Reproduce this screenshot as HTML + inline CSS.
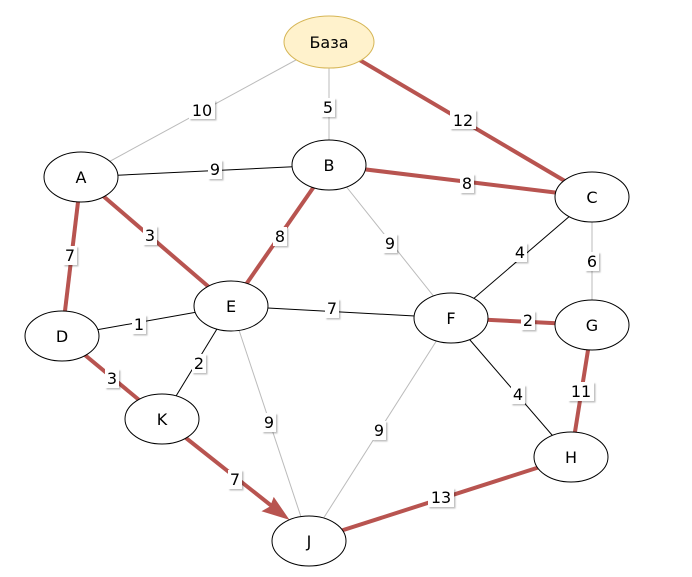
<!DOCTYPE html>
<html><head><meta charset="utf-8"><style>body{margin:0;background:#fff}svg{display:block}
text{font-family:"DejaVu Sans","Liberation Sans",sans-serif;font-size:16px;fill:#000}</style></head>
<body>
<svg width="692" height="577" viewBox="0 0 692 577" xmlns="http://www.w3.org/2000/svg">
<defs><filter id="s" x="-20%" y="-20%" width="150%" height="150%"><feDropShadow dx="1.5" dy="1.5" stdDeviation="0.8" flood-color="#000" flood-opacity="0.25"/></filter></defs>
<g stroke="#bbb" stroke-width="1" fill="none">
<line x1="329" y1="42" x2="81" y2="177"/><line x1="329" y1="42" x2="329" y2="165"/>
<line x1="329" y1="165" x2="451" y2="318"/><line x1="592" y1="197" x2="592" y2="325"/>
<line x1="231" y1="306" x2="309" y2="541"/><line x1="451" y1="318" x2="309" y2="541"/>
</g>
<g stroke="#000" stroke-width="1" fill="none">
<line x1="81" y1="177" x2="329" y2="165"/><line x1="62" y1="336" x2="231" y2="306"/>
<line x1="231" y1="306" x2="162" y2="419"/><line x1="231" y1="306" x2="451" y2="318"/>
<line x1="592" y1="197" x2="451" y2="318"/><line x1="451" y1="318" x2="571" y2="457"/>
</g>
<g stroke="#b85450" stroke-width="4" fill="none">
<line x1="329" y1="42" x2="592" y2="197"/><line x1="329" y1="165" x2="592" y2="197"/>
<line x1="81" y1="177" x2="62" y2="336"/><line x1="81" y1="177" x2="231" y2="306"/>
<line x1="329" y1="165" x2="231" y2="306"/><line x1="451" y1="318" x2="592" y2="325"/>
<line x1="592" y1="325" x2="571" y2="457"/><line x1="62" y1="336" x2="162" y2="419"/>
<line x1="309" y1="541" x2="571" y2="457"/><line x1="162" y1="419" x2="278" y2="511"/>
</g>
<polygon points="287,518 264,511 271,507 274,499" fill="#b85450" stroke="#b85450" stroke-width="2"/>
<g fill="#fff" stroke="#000" stroke-width="1">
<ellipse cx="329" cy="42" rx="45" ry="26" fill="#fff2cc" stroke="#d6b656"/>
<ellipse cx="81" cy="177" rx="37" ry="25"/><ellipse cx="329" cy="165" rx="37" ry="25"/>
<ellipse cx="592" cy="197" rx="37" ry="25"/><ellipse cx="62" cy="336" rx="37" ry="25"/>
<ellipse cx="231" cy="306" rx="37" ry="25"/><ellipse cx="451" cy="318" rx="37" ry="25"/>
<ellipse cx="592" cy="325" rx="37" ry="25"/><ellipse cx="162" cy="419" rx="37" ry="25"/>
<ellipse cx="571" cy="457" rx="37" ry="25"/><ellipse cx="309" cy="541" rx="37" ry="25"/>
</g>
<g text-anchor="middle">
<text x="329" y="48">База</text><text x="81" y="183">A</text><text x="329" y="171">B</text>
<text x="592" y="203">C</text><text x="62" y="342">D</text><text x="231" y="312">E</text>
<text x="451" y="324">F</text><text x="592" y="331">G</text><text x="162" y="425">K</text>
<text x="571" y="463">H</text><text x="309" y="547">J</text>
</g>
<g text-anchor="middle">
<g filter="url(#s)" fill="#fff">
<rect x="189" y="100" width="26" height="19"/><rect x="321" y="98" width="14" height="19"/>
<rect x="450" y="110" width="26" height="19"/><rect x="208" y="160" width="14" height="19"/>
<rect x="460" y="174" width="14" height="19"/><rect x="63" y="246" width="14" height="19"/>
<rect x="143" y="226" width="14" height="19"/><rect x="273" y="227" width="14" height="19"/>
<rect x="383" y="234" width="14" height="19"/><rect x="513" y="243" width="14" height="19"/>
<rect x="585" y="252" width="14" height="19"/><rect x="132" y="315" width="14" height="19"/>
<rect x="325" y="299" width="14" height="19"/><rect x="521" y="311" width="14" height="19"/>
<rect x="192" y="354" width="14" height="19"/><rect x="105" y="369" width="14" height="19"/>
<rect x="568" y="382" width="26" height="19"/><rect x="511" y="385" width="14" height="19"/>
<rect x="262" y="413" width="14" height="19"/><rect x="372" y="421" width="14" height="19"/>
<rect x="228" y="470" width="14" height="19"/><rect x="428" y="488" width="26" height="19"/>
</g>
<text x="202" y="116">10</text><text x="328" y="113">5</text><text x="463" y="126">12</text>
<text x="215" y="175">9</text><text x="467" y="189">8</text><text x="70" y="261">7</text>
<text x="150" y="241">3</text><text x="280" y="242">8</text><text x="390" y="249">9</text>
<text x="520" y="258">4</text><text x="592" y="267">6</text><text x="139" y="330">1</text>
<text x="332" y="314">7</text><text x="528" y="326">2</text><text x="199" y="369">2</text>
<text x="112" y="384">3</text><text x="581" y="397">11</text><text x="518" y="400">4</text>
<text x="269" y="428">9</text><text x="379" y="436">9</text><text x="235" y="485">7</text>
<text x="441" y="503">13</text>
</g>
</svg>
</body></html>
